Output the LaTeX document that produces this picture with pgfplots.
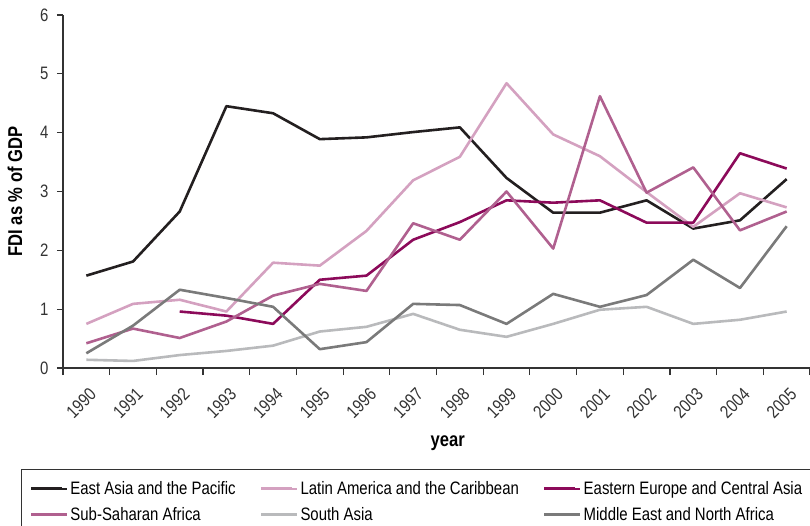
\documentclass[border=0pt]{standalone}
\usepackage{pgfplots}
\pgfplotsset{compat=1.18}
\usepackage{pgfplotstable}
\usepackage{fontspec}
\setmainfont[FakeStretch=0.83]{Liberation Sans}

\definecolor{eastasia}{HTML}{231F20}
\definecolor{latam}{HTML}{D4A1C0}
\definecolor{eeurope}{HTML}{8C0A5A}
\definecolor{ssafrica}{HTML}{B0608F}
\definecolor{sasia}{HTML}{B9BABC}
\definecolor{mena}{HTML}{7A7A7A}
\definecolor{axisgray}{HTML}{333333}

% x = 0..15 stands for 1990..2005
\pgfplotstableread{
x  ea    la    ee    ssa   sa    me
0  1.57  0.75  nan   0.42  0.14  0.25
1  1.81  1.09  nan   0.67  0.12  0.72
2  2.66  1.16  0.96  0.51  0.22  1.33
3  4.45  0.96  0.89  0.79  0.29  1.19
4  4.33  1.79  0.75  1.23  0.38  1.04
5  3.89  1.74  1.50  1.43  0.62  0.32
6  3.92  2.33  1.57  1.31  0.70  0.44
7  4.01  3.19  2.18  2.46  0.92  1.09
8  4.09  3.59  2.48  2.18  0.65  1.07
9  3.23  4.84  2.85  3.00  0.53  0.75
10 2.64  3.97  2.81  2.03  0.75  1.26
11 2.64  3.60  2.85  4.62  0.99  1.04
12 2.85  2.99  2.47  2.98  1.04  1.24
13 2.37  2.40  2.47  3.41  0.75  1.84
14 2.51  2.97  3.65  2.34  0.82  1.36
15 3.21  2.73  3.39  2.66  0.96  2.41
}\fdi

\begin{document}
\begin{tikzpicture}
\begin{axis}[
  scale only axis,
  width=747pt, height=353pt,
  xmin=-0.5, xmax=15.5,
  ymin=0, ymax=6,
  axis lines*=left,
  axis line style={axisgray, line width=1.2pt, -},
  xtick={0,...,15},
  xticklabels={1990,1991,1992,1993,1994,1995,1996,1997,1998,1999,2000,2001,2002,2003,2004,2005},
  major x tick style={draw=none},
  minor xtick={-0.5,0.5,...,15.5},
  minor tick length=7pt,
  minor x tick style={axisgray, line width=1.2pt},
  ytick={0,...,6},
  tick align=outside,
  major tick length=6pt,
  y tick style={axisgray, line width=1.2pt},
  tick label style={font=\fontsize{18}{20}\selectfont, text=axisgray},
  /pgf/number format/assume math mode=true,
  x tick label style={rotate=45, anchor=north east, xshift=-4pt, yshift=-7pt},
  y tick label style={xshift=-5pt},
  xlabel={\bfseries year},
  ylabel={\bfseries FDI as \% of GDP},
  label style={font=\fontsize{20}{22}\selectfont},
  xlabel style={at={(axis description cs:0.515,-0.221)}, anchor=base},
  ylabel style={at={(axis description cs:-0.0643,0.5)}, anchor=center},
  legend columns=3,
  legend cell align=left,
  legend image code/.code={
    \path (0pt,0pt) -- (36pt,0pt);
    \draw[#1, line width=3pt] (0pt,0pt) -- (31pt,0pt);},
  legend style={
    at={(0,0)}, anchor=north west, xshift=-42pt, yshift=-101pt,
    draw=axisgray, line width=1.3pt,
    font=\fontsize{18}{20}\selectfont,
    inner xsep=8pt, inner ysep=10pt,
    row sep=7pt,
    /tikz/every even column/.append style={column sep=22pt},
  },
  every axis plot/.append style={line width=2.6pt, line join=round},
]
\addplot[eastasia] table[x=x, y=ea] {\fdi};
\addplot[latam] table[x=x, y=la] {\fdi};
\addplot[eeurope] table[x=x, y=ee] {\fdi};
\addplot[ssafrica] table[x=x, y=ssa] {\fdi};
\addplot[sasia] table[x=x, y=sa] {\fdi};
\addplot[mena] table[x=x, y=me] {\fdi};
\legend{East Asia and the Pacific, Latin America and the Caribbean, Eastern Europe and Central Asia, Sub-Saharan Africa, South Asia, Middle East and North Africa}
\end{axis}
\pgfresetboundingbox
\path (-63pt,-157pt) rectangle (747pt,368pt);
\end{tikzpicture}
\end{document}
